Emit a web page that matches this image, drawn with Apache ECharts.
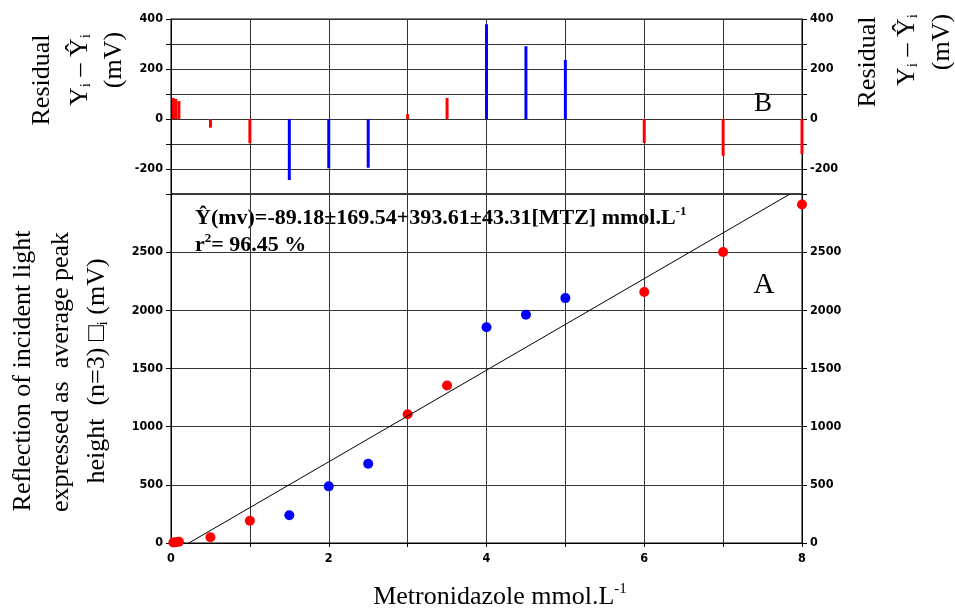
<!DOCTYPE html>
<html>
<head>
<meta charset="utf-8">
<script src="https://cdn.jsdelivr.net/npm/echarts@6/dist/echarts.min.js"></script>
<style>
html, body { margin: 0; padding: 0; background: #fff; }
#chart { width: 955px; height: 608px; }
</style>
</head>
<body>
<div id="chart"></div>
<script>
// concentration (mmol/L), mean peak height (mV) and residual (mV)
var redX = [0.03, 0.06, 0.1, 0.5, 1, 3, 3.5, 6, 7, 8];
var redY = [4, 7, 10, 50, 192, 1107, 1354, 2157, 2501, 2909];
var redRes = [84, 80, 72, -35, -97, 20, 84, -96, -147, -140];

var blueX = [1.5, 2, 2.5, 4, 4.5, 5];
var blueY = [238, 487, 682, 1855, 1962, 2105];
var blueRes = [-244, -197, -195, 379, 291, 236];

// regression line end points
var fitX = [0.227, 7.848];
var fitY = [0, 3000];

var xTicks = [0, 2, 4, 6, 8];
var resTicks = [-200, 0, 200, 400];
var respTicks = [0, 500, 1000, 1500, 2000, 2500];

function pairs(xs, ys) {
    return xs.map(function (x, i) { return [x, ys[i]]; });
}

var tickFont = {
    color: '#000',
    fontWeight: 'bold',
    fontSize: 12.5,
    fontFamily: "'Liberation Sans Narrow', 'DejaVu Sans Condensed', 'Arial Narrow', sans-serif"
};
var serif = "'Liberation Serif', 'Times New Roman', serif";
var axisLine = { show: true, lineStyle: { color: '#000', width: 1 } };
var gridLine = { show: true, lineStyle: { color: '#333', width: 1 } };

var chart = echarts.init(document.getElementById('chart'));

function yAxis(grid, pos, min, max, interval, ticks, split) {
    return {
        type: 'value', gridIndex: grid, position: pos,
        min: min, max: max, interval: interval,
        axisLine: axisLine,
        axisTick: { show: true, length: 5, lineStyle: { color: '#000' } },
        splitLine: split ? gridLine : { show: false },
        axisLabel: Object.assign({
            margin: 8,
            formatter: function (v) { return ticks.indexOf(v) >= 0 ? String(v) : ''; }
        }, tickFont)
    };
}

function rotText(x, y, text, size, rich) {
    var st = { text: text, fill: '#000', font: size + 'px ' + serif, align: 'center', verticalAlign: 'middle' };
    if (rich) st.rich = rich;
    return { type: 'text', x: x, y: y, rotation: Math.PI / 2, style: st };
}

var subRich = {
    s: { fontSize: 15, fontFamily: serif, verticalAlign: 'bottom', padding: [12, 0, 0, 0] },
    n: { fontSize: 26, fontFamily: serif }
};

var option = {
    backgroundColor: '#fff',
    animation: false,
    grid: [
        { left: 171, right: 153, top: 19, height: 175, show: true, borderColor: '#000', borderWidth: 1 },
        { left: 171, right: 153, top: 194, height: 349, show: true, borderColor: '#000', borderWidth: 1 }
    ],
    xAxis: [
        {
            type: 'value', gridIndex: 0, min: 0, max: 8, interval: 1,
            axisLine: { show: false }, axisTick: { show: false }, axisLabel: { show: false },
            splitLine: gridLine
        },
        {
            type: 'value', gridIndex: 1, min: 0, max: 8, interval: 1,
            axisLine: axisLine,
            axisTick: { show: true, length: 4, lineStyle: { color: '#000' } },
            splitLine: gridLine,
            axisLabel: Object.assign({
                margin: 9,
                formatter: function (v) { return xTicks.indexOf(v) >= 0 ? String(v) : ''; }
            }, tickFont)
        }
    ],
    yAxis: [
        yAxis(0, 'left', -300, 400, 100, resTicks, true),
        yAxis(0, 'right', -300, 400, 100, resTicks, false),
        yAxis(1, 'left', 0, 3000, 500, respTicks, true),
        yAxis(1, 'right', 0, 3000, 500, respTicks, false)
    ],
    series: [
        {
            type: 'bar', xAxisIndex: 0, yAxisIndex: 0, barWidth: 3, barGap: '-100%',
            itemStyle: { color: '#ff0000' },
            data: pairs(redX, redRes)
        },
        {
            type: 'bar', xAxisIndex: 0, yAxisIndex: 0, barWidth: 3, barGap: '-100%',
            itemStyle: { color: '#0000ff' },
            data: pairs(blueX, blueRes)
        },
        {
            type: 'line', xAxisIndex: 1, yAxisIndex: 2, symbol: 'none',
            lineStyle: { color: '#000', width: 1 },
            data: pairs(fitX, fitY)
        },
        {
            type: 'scatter', xAxisIndex: 1, yAxisIndex: 2, symbolSize: 10,
            itemStyle: { color: '#ff0000', opacity: 1 },
            data: pairs(redX, redY)
        },
        {
            type: 'scatter', xAxisIndex: 1, yAxisIndex: 2, symbolSize: 10,
            itemStyle: { color: '#0000ff', opacity: 1 },
            data: pairs(blueX, blueY)
        }
    ],
    graphic: [
        // left residual axis name
        rotText(42, 80, 'Residual', 26),
        rotText(80, 70, '{n|Y}{s|i}{n| – Ŷ}{s|i}', 26, subRich),
        rotText(114, 60, '(mV)', 26),
        // right residual axis name
        rotText(868, 62, 'Residual', 26),
        rotText(907, 50, '{n|Y}{s|i}{n| – Ŷ}{s|i}', 26, subRich),
        rotText(942, 42, '(mV)', 26),
        // response axis name
        rotText(23, 371, 'Reflection of incident light', 26),
        rotText(61, 372, 'expressed as  average peak', 26),
        rotText(97, 371, '{n|height  (n=3) □}{s|i}{n| (mV)}', 26, subRich),
        // x axis name
        {
            type: 'text', x: 500, y: 597,
            style: {
                text: '{n|Metronidazole mmol.L}{p|-1}', align: 'center', verticalAlign: 'middle',
                rich: {
                    n: { fontSize: 26, fontFamily: serif, fill: '#000' },
                    p: { fontSize: 15, fontFamily: serif, fill: '#000', padding: [0, 0, 15, 0] }
                }
            }
        },
        // regression equation
        {
            type: 'text', x: 195, y: 218,
            style: {
                text: '{b|Ŷ(mv)=-89.18±169.54+393.61±43.31[MTZ] mmol.L}{p|-1}', verticalAlign: 'middle',
                rich: {
                    b: { fontSize: 22, fontWeight: 'bold', fontFamily: serif, fill: '#000' },
                    p: { fontSize: 13, fontWeight: 'bold', fontFamily: serif, fill: '#000', padding: [0, 0, 13, 0] }
                }
            }
        },
        {
            type: 'text', x: 195, y: 245,
            style: {
                text: '{b|r}{p|2}{b|= 96.45 %}', verticalAlign: 'middle',
                rich: {
                    b: { fontSize: 22, fontWeight: 'bold', fontFamily: serif, fill: '#000' },
                    p: { fontSize: 13, fontWeight: 'bold', fontFamily: serif, fill: '#000', padding: [0, 0, 13, 0] }
                }
            }
        },
        {
            type: 'text', x: 764, y: 285,
            style: { text: 'A', font: '29px ' + serif, fill: '#000', align: 'center', verticalAlign: 'middle' }
        },
        {
            type: 'text', x: 763, y: 104,
            style: { text: 'B', font: '27px ' + serif, fill: '#000', align: 'center', verticalAlign: 'middle' }
        }
    ]
};

chart.setOption(option);
</script>
</body>
</html>
